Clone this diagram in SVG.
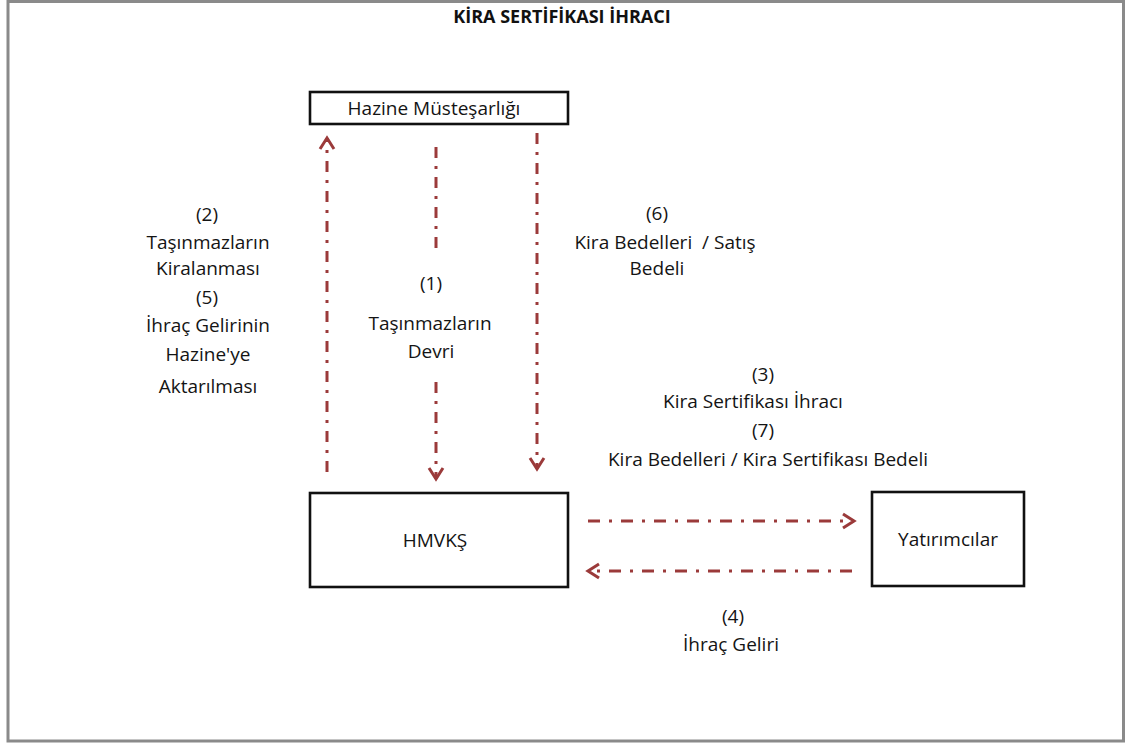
<svg xmlns="http://www.w3.org/2000/svg" width="1127" height="744" viewBox="0 0 1127 744">
<style>
.t{font-family:"Open Sans","Liberation Sans",sans-serif;font-size:19px;fill:#141414;text-anchor:middle}
.title{font-family:"Open Sans","Liberation Sans",sans-serif;font-size:18px;font-weight:bold;fill:#111;text-anchor:middle}
.box{fill:#fff;stroke:#111;stroke-width:2.6}
.c{fill:none;stroke:#9b3a3a;stroke-width:3}
.v{stroke-dasharray:11 8 3 8}
.h{stroke-dasharray:12 9 3 9}
</style>
<defs>
<marker id="ah" viewBox="-14 -10 18 20" markerWidth="18" markerHeight="20" refX="0" refY="0" orient="auto" markerUnits="userSpaceOnUse">
<path d="M-11,-7 L0,0 L-11,7" fill="none" stroke="#9b3a3a" stroke-width="3" stroke-linejoin="miter"/>
</marker>
</defs>
<rect x="0" y="0" width="1127" height="744" fill="#fff"/>
<rect x="8" y="1.5" width="1115.5" height="739.5" fill="none" stroke="#8a8a8a" stroke-width="3"/>
<text class="title" x="562" y="23">KİRA SERTİFİKASI İHRACI</text>
<g id="hazine">
<rect class="box" x="310" y="92" width="258" height="32"/>
<text class="t" x="434" y="115">Hazine Müsteşarlığı</text>
</g>
<g id="hmvks">
<rect class="box" x="310" y="493" width="258" height="94"/>
<text class="t" x="435" y="547">HMVKŞ</text>
</g>
<g id="yatirimcilar">
<rect class="box" x="872" y="492" width="152" height="94"/>
<text class="t" x="948" y="546">Yatırımcılar</text>
</g>
<g id="connectors">
<path class="c v" d="M327,472 L327,138" marker-end="url(#ah)"/>
<path class="c v" d="M436,147 L436,248"/>
<path class="c v" d="M436,382 L436,479" marker-end="url(#ah)"/>
<path class="c v" d="M537,133 L537,469" marker-end="url(#ah)"/>
<path class="c h" d="M588,521 L854,521" marker-end="url(#ah)"/>
<path class="c h" d="M852,571 L588,571" marker-end="url(#ah)"/>
</g>
<g id="labels">
<text class="t" x="207" y="221">(2)</text>
<text class="t" x="208" y="249">Taşınmazların</text>
<text class="t" x="208" y="275">Kiralanması</text>
<text class="t" x="207" y="304">(5)</text>
<text class="t" x="208" y="332">İhraç Gelirinin</text>
<text class="t" x="208" y="361">Hazine'ye</text>
<text class="t" x="208" y="393">Aktarılması</text>
<text class="t" x="431" y="290">(1)</text>
<text class="t" x="430" y="330">Taşınmazların</text>
<text class="t" x="431" y="358">Devri</text>
<text class="t" x="657" y="220">(6)</text>
<text class="t" x="665" y="249" xml:space="preserve">Kira Bedelleri  / Satış</text>
<text class="t" x="657" y="275">Bedeli</text>
<text class="t" x="763" y="381">(3)</text>
<text class="t" x="753" y="408">Kira Sertifikası İhracı</text>
<text class="t" x="763" y="437">(7)</text>
<text class="t" x="768" y="466">Kira Bedelleri / Kira Sertifikası Bedeli</text>
<text class="t" x="733" y="623">(4)</text>
<text class="t" x="731" y="651">İhraç Geliri</text>
</g>
</svg>
